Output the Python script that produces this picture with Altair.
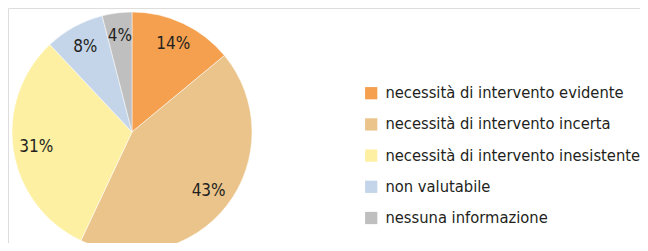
import altair as alt
import pandas as pd

categories = [
    "necessità di intervento evidente",
    "necessità di intervento incerta",
    "necessità di intervento inesistente",
    "non valutabile",
    "nessuna informazione",
]
values = [14, 43, 31, 8, 4]
labels = ["14%", "43%", "31%", "8%", "4%"]
colors = ["#F4A04F", "#EBC48B", "#FEF0A2", "#C4D4E9", "#BFBFBF"]

df = pd.DataFrame({"cat": categories, "val": values, "lab": labels, "order": list(range(len(values)))})

FONT = "DejaVu Sans Condensed, sans-serif"

base = alt.Chart(df).encode(
    theta=alt.Theta("val:Q", stack=True),
    order=alt.Order("order:Q"),
    x=alt.value(124),
    y=alt.value(124),
)

pie = base.mark_arc(radius=120, stroke="white", strokeWidth=0.5).encode(
    color=alt.Color(
        "cat:N",
        sort=categories,
        scale=alt.Scale(domain=categories, range=colors),
        legend=alt.Legend(
            title=None,
            orient="none",
            legendX=355,
            legendY=77,
            symbolType="square",
            symbolSize=150,
            symbolStrokeWidth=0,
            labelFont=FONT,
            labelFontSize=16.4,
            labelColor="#231F20",
            rowPadding=14.2,
            labelOffset=6,
            labelLimit=400,
        ),
    )
)

text = base.mark_text(radius=97, font=FONT, fontSize=17, color="#231F20").encode(
    text="lab:N"
)

chart = (
    alt.layer(pie, text)
    .properties(width=632, height=235, padding=0, autosize=alt.AutoSizeParams(type="none"))
    .configure_view(strokeWidth=0, stroke=None, fill=None)
    .configure(background="#ffffff")
)

chart.save("out.html", embed_options={"renderer": "svg", "actions": False})
